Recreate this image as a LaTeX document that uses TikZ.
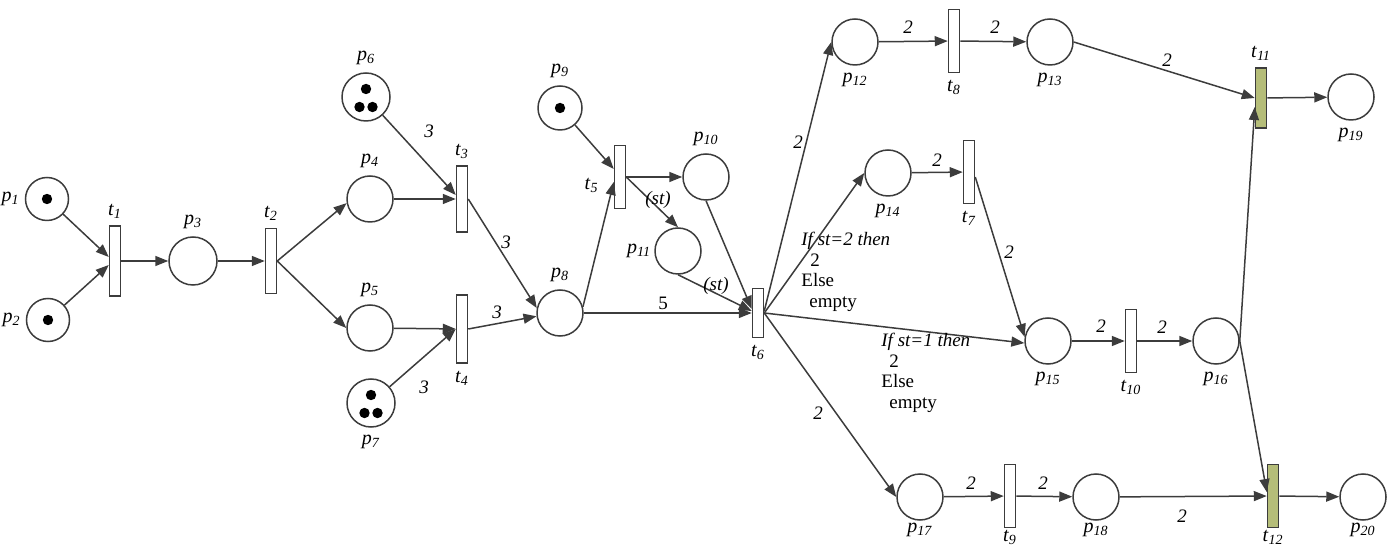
\documentclass[tikz,border=0pt]{standalone}
\usepackage{fontspec}
\setmainfont{Liberation Serif}
\usetikzlibrary{arrows.meta}
\definecolor{linec}{RGB}{60,60,60}
\definecolor{trgreen}{RGB}{181,189,121}
\newcommand{\fsz}{\fontsize{9.5}{10.3}\selectfont}
\newcommand{\lab}[2]{\textit{#1}\textsubscript{\textit{#2}}}

\begin{document}
\begin{tikzpicture}[x=0.5pt,y=-0.5pt,font=\fsz,
    place/.style={circle,draw=linec,line width=0.75pt,minimum size=23pt,inner sep=0pt},
    trans/.style={rectangle,draw=linec,line width=0.75pt,minimum width=5.5pt,minimum height=31.5pt,inner sep=0pt},
    fired/.style={trans,fill=trgreen},
    arc/.style={draw=linec,line width=0.75pt,-{Triangle[length=6.5pt,width=5pt]}},
    wt/.style={inner sep=0pt,font=\fsz\itshape},
    cond/.style={align=left,inner sep=0pt,anchor=north west,font=\fsz},
    low/.style={label={[label distance=-2.5pt]below:#1}},
    every label/.style={font=\fontsize{10}{11}\selectfont}]
    \useasboundingbox (0,0) rectangle (1395,549);
    \def\r{2.6pt}

    \node[place,minimum size=21.5pt,label={[label distance=-1pt]left:\lab{p}{1}}] (p1) at (47,199) {};
    \node[place,minimum size=21.5pt,label={[label distance=-1pt]left:\lab{p}{2}}] (p2) at (48,320) {};
    \node[trans,minimum height=35pt,label=above:\lab{t}{1}] (t1) at (115,261) {};
    \node[place,minimum size=24pt,label=above:\lab{p}{3}] (p3) at (193,261) {};
    \node[trans,minimum height=32.5pt,label=above:\lab{t}{2}] (t2) at (271,261) {};
    \node[place,label=above:\lab{p}{4}] (p4) at (370,199) {};
    \node[place,label=above:\lab{p}{5}] (p5) at (370,328) {};
    \node[place,minimum size=24pt,label=above:\lab{p}{6}] (p6) at (366,97) {};
    \node[place,minimum size=24pt,label=below:\lab{p}{7}] (p7) at (371,403) {};
    \node[trans,minimum height=33pt,label=above:\lab{t}{3}] (t3) at (462,199) {};
    \node[trans,minimum height=34pt,label=below:\lab{t}{4}] (t4) at (462,329) {};
    \node[place,label=above:\lab{p}{8}] (p8) at (560,313) {};
    \node[place,minimum size=22pt,label=above:\lab{p}{9}] (p9) at (560,108) {};
    \node[trans,label={[yshift=-4pt,label distance=4pt]left:\lab{t}{5}}] (t5) at (620,177) {};
    \node[place,label=above:\lab{p}{10}] (p10) at (706,177) {};
    \node[place,label={[label distance=-2pt]left:\lab{p}{11}}] (p11) at (678,251) {};
    \node[trans,minimum height=24.5pt,label=below:\lab{t}{6}] (t6) at (758,313) {};
    \node[place,label=below:\lab{p}{12}] (p12) at (855,42) {};
    \node[trans,label=below:\lab{t}{8}] (t8) at (954,41) {};
    \node[place,label=below:\lab{p}{13}] (p13) at (1050,42) {};
    \node[fired,minimum height=30pt,label=above:\lab{t}{11}] (t11) at (1261,98) {};
    \node[place,label=below:\lab{p}{19}] (p19) at (1351,97) {};
    \node[place,label=below:\lab{p}{14}] (p14) at (888,173) {};
    \node[trans,label=below:\lab{t}{7}] (t7) at (969,172) {};
    \node[place,label=below:\lab{p}{15}] (p15) at (1048,341) {};
    \node[trans,label=below:\lab{t}{10}] (t10) at (1131,341) {};
    \node[place,label=below:\lab{p}{16}] (p16) at (1216,341) {};
    \node[place,low=\lab{p}{17}] (p17) at (920,497) {};
    \node[trans,low=\lab{t}{9}] (t9) at (1010,496) {};
    \node[place,low=\lab{p}{18}] (p18) at (1096,497) {};
    \node[fired,low=\lab{t}{12}] (t12) at (1273,496) {};
    \node[place,low=\lab{p}{20}] (p20) at (1363,497) {};

    \foreach \pp in {p1,p2,p9}
        \fill (\pp) circle [radius=\r];
    \foreach \pp in {p6,p7}
        \foreach \dx/\dy in {0/-8,-6.5/10,6.5/10}
            \fill[shift={(\pp)}] (\dx,\dy) circle [radius=\r];

    \draw[arc] (p1) -- ([yshift=2pt]t1.west);
    \draw[arc] (p2) -- ([yshift=-2pt]t1.west);
    \draw[arc] (t1) -- (p3);
    \draw[arc] (p3) -- (t2);
    \draw[arc] (t2.east) -- (p4.190);
    \draw[arc] (t2.east) -- (p5.west);
    \draw[arc] (p4) -- (t3);
    \draw[arc] (p6) -- ([yshift=2pt]t3.west);
    \draw[arc] (p5) -- (t4);
    \draw[arc] (p7) -- (t4.west);
    \draw[arc] (t3.east) -- (p8.168);
    \draw[arc] (t4.east) -- (p8.188);
    \draw[arc] (p8.15) -- ([yshift=-2.5pt]t5.west);
    \draw[arc] (p9) -- ([yshift=4pt]t5.west);
    \draw[arc] (t5) -- (p10);
    \draw[arc] (t5.east) -- (p11.north);
    \draw[arc] (p8) -- (t6);
    \draw[arc] (p10.south) -- ([yshift=2pt]t6.west);
    \draw[arc] (p11.south) -- ([yshift=1pt]t6.west);
    \draw[arc] ([yshift=1pt]t6.east) -- (p12.west);
    \draw[arc] (t6.east) -- (p14.west);
    \draw[arc] (t6.east) -- (p15.185);
    \draw[arc] (t6.east) -- (p17.west);
    \draw[arc] (p12) -- (t8);
    \draw[arc] (t8) -- (p13);
    \draw[arc] (p13.east) -- (t11.west);
    \draw[arc] (p14) -- (t7);
    \draw[arc] ([yshift=-2.5pt]t7.east) -- (p15.170);
    \draw[arc] (p15) -- (t10);
    \draw[arc] (t10) -- (p16);
    \draw[arc] (p16.east) -- ([yshift=-4.5pt]t11.west);
    \draw[arc] (p16.east) -- ([yshift=2pt]t12.west);
    \draw[arc] (t11) -- (p19);
    \draw[arc] (p17) -- (t9);
    \draw[arc] (t9) -- (p18);
    \draw[arc] (p18) -- (t12);
    \draw[arc] (t12) -- (p20);

    \foreach \x/\y/\w [count=\i] in {429/131/3, 506/242/3, 497/312/3, 424/387/3,
            658/200/{(st)}, 716/286/{(st)}, 798/142/2, 937/160/2, 1009/252/2,
            908/27/2, 995/27/2, 1167/60/2, 1101/326/2, 1162/327/2,
            971/483/2, 1043/483/2, 1182/516/2, 818/413/2}
        \node[wt] (w\i) at (\x,\y) {\w};
    \node[inner sep=0pt] (w5n) at (663,303) {5};

    \node[cond] (c1) at (801,232) {\textit{If st=2 then}\\\hspace{4.5pt}2\\Else\\\hspace{4pt}empty};
    \node[cond] (c2) at (881,333) {\textit{If st=1 then}\\\hspace{4pt}2\\Else\\\hspace{4pt}empty};
\end{tikzpicture}
\end{document}
